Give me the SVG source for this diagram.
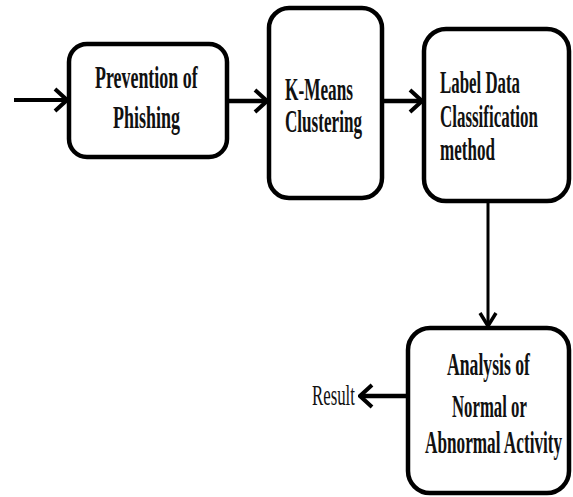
<svg xmlns="http://www.w3.org/2000/svg" width="573" height="497" viewBox="0 0 573 497">
<style>
.box{fill:#fff;stroke:#000;stroke-width:4.5}
.t{font-family:"Liberation Serif","Times New Roman",serif;font-weight:bold;font-size:31px;fill:#111}
.r{font-family:"Liberation Serif","Times New Roman",serif;font-size:30px;fill:#111}
.c{fill:none;stroke:#000;stroke-linecap:butt}
</style>
<defs>
<marker id="ah" viewBox="0 0 16 26" refX="14" refY="13" markerWidth="16" markerHeight="26" markerUnits="userSpaceOnUse" orient="auto">
<path d="M2,2 L14,13 L2,24" fill="none" stroke="#000" stroke-width="4" stroke-linejoin="miter"/>
</marker>
<marker id="ah2" viewBox="0 0 24 16" refX="12" refY="14" markerWidth="24" markerHeight="16" markerUnits="userSpaceOnUse" orient="0">
<path d="M4,1 L12,14 L20,1" fill="none" stroke="#000" stroke-width="3.5" stroke-linejoin="miter"/>
</marker>
</defs>
<g id="connectors">
<line class="c" x1="14" y1="100" x2="67" y2="100" stroke-width="4" marker-end="url(#ah)"/>
<line class="c" x1="228" y1="101" x2="267" y2="101" stroke-width="4.5" marker-end="url(#ah)"/>
<line class="c" x1="383" y1="101" x2="422" y2="101" stroke-width="4.5" marker-end="url(#ah)"/>
<line class="c" x1="488" y1="202" x2="488" y2="326" stroke-width="3" marker-end="url(#ah2)"/>
<line class="c" x1="407" y1="396" x2="360" y2="396" stroke-width="4.5" marker-end="url(#ah)"/>
</g>
<g id="prevention">
<rect class="box" x="69" y="44" width="158" height="113" rx="18"/>
<text class="t" transform="matrix(0.578 0 0 1 95 88)">Prevention of</text>
<text class="t" transform="matrix(0.58 0 0 1 113 128)">Phishing</text>
</g>
<g id="kmeans">
<rect class="box" x="269" y="8" width="113" height="190" rx="20"/>
<text class="t" transform="matrix(0.556 0 0 1 285 100)">K-Means</text>
<text class="t" transform="matrix(0.552 0 0 1 285 132)">Clustering</text>
</g>
<g id="label">
<rect class="box" x="424" y="29" width="145" height="172" rx="22"/>
<text class="t" transform="matrix(0.544 0 0 1 440 93)">Label Data</text>
<text class="t" transform="matrix(0.547 0 0 1 440 127)">Classification</text>
<text class="t" transform="matrix(0.55 0 0 1 440 160)">method</text>
</g>
<g id="analysis">
<rect class="box" x="408" y="328" width="161" height="165" rx="22"/>
<text class="t" transform="matrix(0.57 0 0 1 447 375)">Analysis of</text>
<text class="t" transform="matrix(0.54 0 0 1 452 417)">Normal or</text>
<text class="t" transform="matrix(0.555 0 0 1 425 453)">Abnormal Activity</text>
</g>
<g id="result">
<text class="r" transform="matrix(0.56 0 0 1 312 405)">Result</text>
</g>
</svg>
